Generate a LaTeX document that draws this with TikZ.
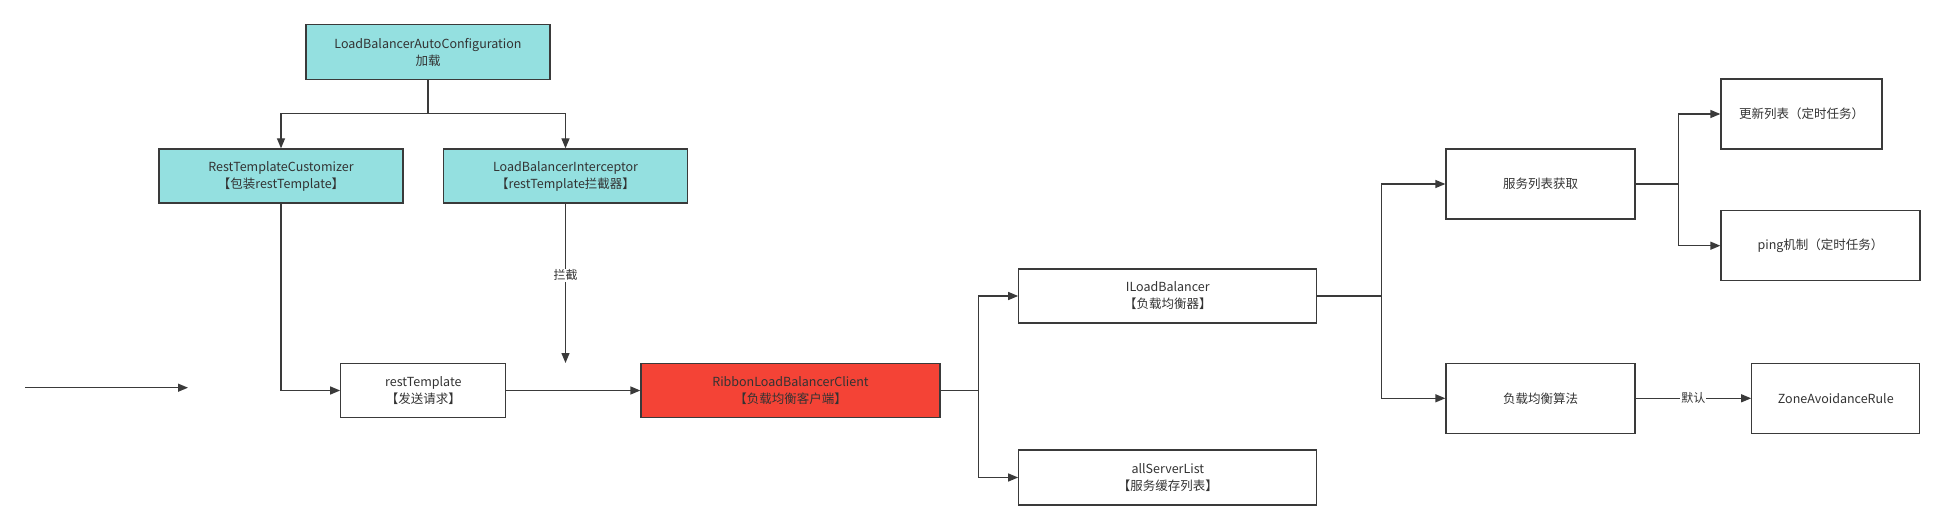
\documentclass[tikz,border=0pt]{standalone}
\usepackage{fontspec}
\setmainfont{Noto Sans CJK SC}
\usepackage{xcolor}
\usetikzlibrary{arrows.meta}

\definecolor{cyanbox}{HTML}{94E0E0}
\definecolor{redbox}{HTML}{F44336}
\definecolor{linegray}{HTML}{3A3A3A}
\definecolor{textgray}{HTML}{333333}

\tikzset{
  box/.style={draw=linegray, line width=1.3pt, align=center, text=textgray,
    font=\fontsize{12.5}{17}\selectfont, inner sep=0pt},
  arr/.style={draw=linegray, line width=1.3pt, -{Triangle[length=10pt,width=8pt]}},
  line/.style={draw=linegray, line width=1.3pt},
  lbl/.style={fill=white, text=textgray, font=\fontsize{12}{14}\selectfont, inner sep=1pt}
}

\begin{document}
\begin{tikzpicture}[x=1pt, y=-1pt]
    \useasboundingbox (0,0) rectangle (1945,529);
    % top part
    \node[box, fill=cyanbox, minimum width=244pt, minimum height=55pt] (autoConfig) at (428,52) {LoadBalancerAutoConfiguration\\加载};
    \node[box, fill=cyanbox, minimum width=244pt, minimum height=54pt] (customizer) at (281,176) {RestTemplateCustomizer\\【包装restTemplate】};
    \node[box, fill=cyanbox, minimum width=244pt, minimum height=54pt] (interceptor) at (565.5,176) {LoadBalancerInterceptor\\【restTemplate拦截器】};
    % request chain
    \node[box, minimum width=165pt, minimum height=54pt] (restTpl) at (423.3,390.5) {restTemplate\\【发送请求】};
    \node[box, fill=redbox, minimum width=299pt, minimum height=54pt] (ribbon) at (790.5,390.5) {RibbonLoadBalancerClient\\【负载均衡客户端】};
    \node[box, minimum width=298pt, minimum height=54pt] (iLB) at (1167.8,296) {ILoadBalancer\\【负载均衡器】};
    \node[box, minimum width=298pt, minimum height=55pt] (serverList) at (1167.8,477.5) {allServerList\\【服务缓存列表】};
    % right part
    \node[box, minimum width=189pt, minimum height=70pt] (listFetch) at (1540.5,184) {服务列表获取};
    \node[box, minimum width=189pt, minimum height=70pt] (lbAlgo) at (1540.5,398.3) {负载均衡算法};
    \node[box, minimum width=161pt, minimum height=70pt] (updateList) at (1801.5,114) {更新列表（定时任务）};
    \node[box, minimum width=199pt, minimum height=70pt] (pingTask) at (1820.5,245.7) {ping机制（定时任务）};
    \node[box, minimum width=168pt, minimum height=70pt] (zoneRule) at (1835.8,398.3) {ZoneAvoidanceRule};

    \coordinate (split) at (428,113.7);
    \coordinate (inStart) at (25,387.7);
    \coordinate (inEnd) at (188,387.7);
    \coordinate (hookEnd) at (565.5,363);

    % connectors
    \draw[arr] (inStart) -- (inEnd);
    \draw[line] (autoConfig) -- (split);
    \draw[arr] (split) -| (customizer);
    \draw[arr] (split) -| (interceptor);
    \draw[arr] (customizer) |- (restTpl);
    \draw[arr] (interceptor) -- node[lbl, pos=0.45] {拦截} (hookEnd);
    \draw[arr] (restTpl) -- (ribbon);
    \draw[arr] (ribbon.east) -- ++(38,0) |- (iLB);
    \draw[arr] (ribbon.east) -- ++(38,0) |- (serverList);
    \draw[arr] (iLB.east) -- ++(64,0) |- (listFetch);
    \draw[arr] (iLB.east) -- ++(64,0) |- (lbAlgo);
    \draw[arr] (listFetch.east) -- ++(42.7,0) |- (updateList);
    \draw[arr] (listFetch.east) -- ++(42.7,0) |- (pingTask);
    \draw[arr] (lbAlgo) -- node[lbl] {默认} (zoneRule);
\end{tikzpicture}
\end{document}
